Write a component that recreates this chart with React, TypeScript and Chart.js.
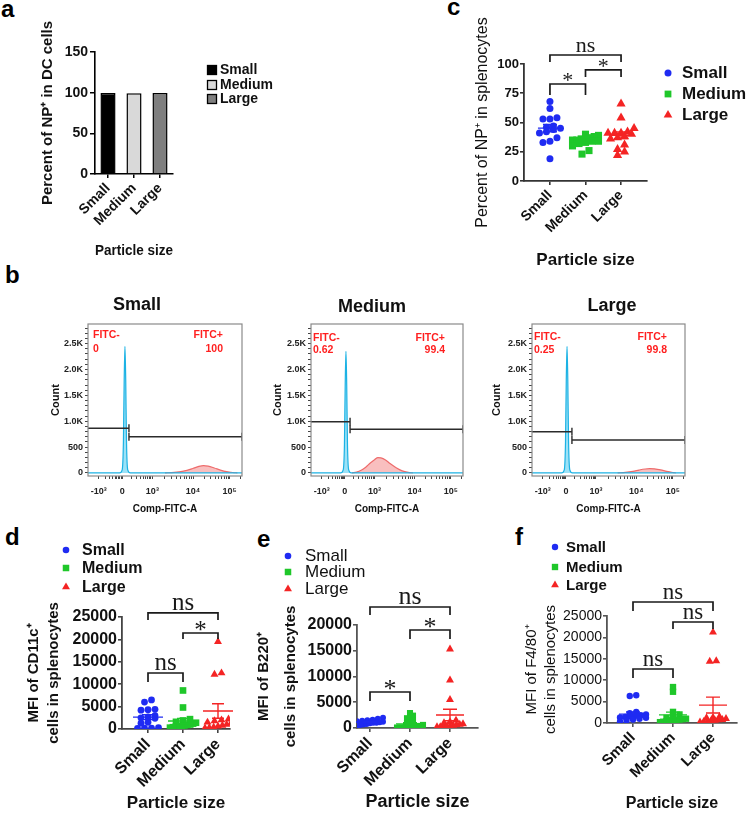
import React, { useEffect, useRef } from 'react';
import { Chart, registerables } from 'chart.js';

Chart.register(...registerables);

const SANS = '"Liberation Sans", Arial, Helvetica, sans-serif';
const SERIF = '"Liberation Serif", "Times New Roman", serif';
Chart.defaults.font.family = SANS;
Chart.defaults.color = '#111';

// ---------------- data ----------------
const categories = ['Small', 'Medium', 'Large'];

// (a) Percent of NP+ in DC cells
const npInDcPercent = [99.6, 99.3, 99.5];

// (b) flow histograms (channel position on display axis, event count)
const flowMajorTicks = [70, 222, 418, 682, 920];
const flowMajorLabels = ['-10³', '0', '10³', '10⁴', '10⁵'];
const fitcNegPercent = ['0', '0.62', '0.25'];
const fitcPosPercent = ['100', '99.4', '99.8'];
const smallNegChannel = [0, 205, 222, 230, 235, 240, 245, 250, 258, 275, 1000];
const smallNegCount = [0, 0, 60, 600, 1800, 2450, 1800, 600, 60, 0, 0];
const smallPosChannel = [500, 560, 620, 680, 720, 750, 780, 820, 860, 900, 940, 970];
const smallPosCount = [0, 10, 35, 85, 125, 140, 130, 95, 55, 25, 8, 0];
const mediumNegChannel = [0, 195, 212, 220, 225, 230, 235, 240, 248, 265, 1000];
const mediumNegCount = [0, 0, 60, 550, 1700, 2350, 1700, 550, 60, 0, 0];
const mediumPosChannel = [270, 300, 330, 360, 390, 420, 440, 460, 490, 520, 560, 600, 640, 670];
const mediumPosCount = [0, 15, 50, 110, 190, 260, 295, 290, 250, 180, 100, 40, 10, 0];
const largeNegChannel = [0, 194, 211, 219, 224, 229, 234, 239, 247, 264, 1000];
const largeNegCount = [0, 0, 60, 600, 1800, 2450, 1800, 600, 60, 0, 0];
const largePosChannel = [560, 610, 660, 700, 740, 770, 800, 840, 880, 920, 940];
const largePosCount = [0, 10, 30, 55, 75, 82, 78, 60, 30, 8, 0];
const negGateLevel = [863, 990, 797];
const posGateLevel = [700, 843, 636];
const gateSplit = [266, 257, 261];

// (c) Percent of NP+ in splenocytes
const npSplenoSmall = [68, 62, 54, 53, 53, 47, 46, 45, 44, 42, 41, 37, 34, 33, 19];
const npSplenoMedium = [40, 39, 38, 37, 36, 36, 35, 35, 34, 34, 33, 32, 30, 26, 23];
const npSplenoLarge = [66, 54, 45, 42, 41, 41, 41, 40, 38, 37, 36, 31, 25, 27, 22];
const npSplenoBrackets = [
  { from: 0, to: 2, y: 107.7, label: 'ns', drop: 7 },
  { from: 1, to: 2, y: 94.9, label: '*', drop: 7 },
  { from: 0, to: 1, y: 82.9, label: '*', drop: 11 },
];

// (d) MFI of CD11c+
const cd11cSmall = [6500, 6000, 4400, 4300, 4200, 3000, 2700, 2500, 2400, 1500, 1300, 300, 200, 200, 150];
const cd11cMedium = [8600, 4800, 2200, 1900, 1600, 1400, 1200, 1000, 900, 800, 700, 600, 500, 400, 300];
const cd11cLarge = [19500, 12500, 12200, 2200, 2000, 1800, 1500, 1300, 1000, 800, 600, 400, 300, 200];
const cd11cBrackets = [
  { from: 0, to: 2, y: 25900, label: 'ns', drop: 7 },
  { from: 1, to: 2, y: 21430, label: '*', drop: 6 },
  { from: 0, to: 1, y: 12500, label: 'ns', drop: 9 },
];

// (e) MFI of B220+
const b220Small = [2000, 1800, 1600, 1500, 1400, 1300, 1200, 1100, 1000, 1000, 900, 800, 700, 600, 500];
const b220Medium = [2900, 2400, 1900, 1400, 1000, 600, 400, 300, 300, 200, 200, 200, 100, 100, 100];
const b220Large = [15300, 9300, 5500, 1500, 1200, 1000, 800, 700, 600, 500, 400, 300, 300, 200, 200];
const b220Brackets = [
  { from: 0, to: 2, y: 23500, label: 'ns', drop: 8 },
  { from: 1, to: 2, y: 19030, label: '*', drop: 9 },
  { from: 0, to: 1, y: 6990, label: '*', drop: 9 },
];

// (f) MFI of F4/80+
const f480Small = [6500, 6300, 2600, 2300, 2000, 1800, 1700, 1500, 1400, 1300, 1200, 1000, 800, 500, 300];
const f480Medium = [8400, 7300, 2600, 2000, 1500, 1200, 1000, 900, 800, 700, 600, 500, 400, 300, 200];
const f480Large = [21200, 14500, 14400, 1500, 1300, 1200, 1000, 800, 700, 600, 500, 400, 300, 200];
const f480Brackets = [
  { from: 0, to: 2, y: 28270, label: 'ns', drop: 9 },
  { from: 1, to: 2, y: 23600, label: 'ns', drop: 7 },
  { from: 0, to: 1, y: 12620, label: 'ns', drop: 9 },
];

// ---------------- styles ----------------
const groupColors = ['#1f2bf2', '#1fc72a', '#f42424'];
const groupMarkers = ['circle', 'rect', 'triangle'];
const barFills = ['#000000', '#d9d9d9', '#7f7f7f'];

type Box = { left: number; top: number; width: number; height: number; area: { l: number; t: number; r: number; b: number } };

function frameLayout(box: Box) {
  const L = box.area.l - box.left;
  const R = box.area.r - box.left;
  const T = box.area.t - box.top;
  const B = box.area.b - box.top;
  return { padding: { left: 0, top: T, right: box.width - R, bottom: 0 }, yWidth: L, xHeight: box.height - B };
}

function axisGrid(color: string, tickLength: number, lineWidth: number) {
  return { display: true, drawOnChartArea: false, drawTicks: true, tickLength, color, lineWidth };
}

function drawMarker(ctx: any, style: string, x: number, y: number, r: number, color: string) {
  ctx.fillStyle = color;
  ctx.beginPath();
  if (style === 'circle') ctx.arc(x, y, r, 0, Math.PI * 2);
  else if (style === 'rect') {
    const s = r * Math.SQRT1_2;
    ctx.rect(x - s, y - s, 2 * s, 2 * s);
  } else {
    ctx.moveTo(x, y - r);
    ctx.lineTo(x + r * 0.866, y + r * 0.5);
    ctx.lineTo(x - r * 0.866, y + r * 0.5);
    ctx.closePath();
  }
  ctx.fill();
}

// ---------------- plugins (closures) ----------------
function keyPlugin(o: any) {
  return {
    id: 'keyList',
    afterDraw(chart: any) {
      const ctx = chart.ctx;
      ctx.save();
      ctx.font = o.font;
      ctx.textBaseline = 'middle';
      ctx.textAlign = 'left';
      if (o.mode === 'bars') {
        const ds = chart.data.datasets[0];
        chart.data.labels.forEach((lab: string, i: number) => {
          const y = o.rows[i];
          ctx.fillStyle = ds.backgroundColor[i];
          ctx.fillRect(o.mx - o.size / 2, y - o.size / 2, o.size, o.size);
          ctx.strokeStyle = '#000';
          ctx.lineWidth = 1.3;
          ctx.strokeRect(o.mx - o.size / 2, y - o.size / 2, o.size, o.size);
          ctx.fillStyle = '#111';
          ctx.fillText(lab, o.tx, y + 0.5);
        });
      } else {
        chart.data.datasets.forEach((ds: any, i: number) => {
          drawMarker(ctx, ds.pointStyle, o.mx, o.rows[i], o.r[i], ds.backgroundColor);
          ctx.fillStyle = '#111';
          ctx.fillText(ds.label, o.tx, o.rows[i] + 0.5);
        });
      }
      ctx.restore();
    },
  };
}

// rows of points (like a scatter dot plot): points with close y share a row, centred on the category
function swarmPlugin(spacing: number, binH: number, maxWidth: number) {
  return {
    id: 'swarm',
    afterDatasetsUpdate(chart: any) {
      chart.data.datasets.forEach((_ds: any, i: number) => {
        const els = chart.getDatasetMeta(i).data as any[];
        const order = els.map((_e, j) => j).sort((a, b) => els[b].y - els[a].y);
        const bins: { y0: number; idx: number[] }[] = [];
        let cur: { y0: number; idx: number[] } | null = null;
        order.forEach((j) => {
          const y = els[j].y;
          if (!cur || Math.abs(y - cur.y0) > binH) {
            cur = { y0: y, idx: [] };
            bins.push(cur);
          }
          cur.idx.push(j);
        });
        bins.forEach((b) => {
          const n = b.idx.length;
          const sp = n > 1 ? Math.min(spacing, maxWidth / (n - 1)) : 0;
          b.idx.forEach((j, k) => {
            els[j].x += (k - (n - 1) / 2) * sp;
          });
        });
      });
    },
  };
}

function meanSemPlugin(half: number, cap: number, width: number) {
  return {
    id: 'meanSem',
    afterDatasetsDraw(chart: any) {
      const { ctx } = chart;
      const xs = chart.scales.x;
      const ys = chart.scales.y;
      chart.data.datasets.forEach((ds: any) => {
        const vals = ds.data.map((p: any) => p.y);
        const n = vals.length;
        const mean = vals.reduce((a: number, b: number) => a + b, 0) / n;
        const sd = Math.sqrt(vals.reduce((a: number, v: number) => a + (v - mean) ** 2, 0) / (n - 1));
        const sem = sd / Math.sqrt(n);
        const cx = xs.getPixelForValue(ds.data[0].x);
        const ym = ys.getPixelForValue(mean);
        const yt = ys.getPixelForValue(mean + sem);
        const yb = ys.getPixelForValue(Math.max(mean - sem, 0));
        ctx.save();
        ctx.strokeStyle = ds.borderColor;
        ctx.lineWidth = width;
        ctx.beginPath();
        ctx.moveTo(cx - half, ym);
        ctx.lineTo(cx + half, ym);
        ctx.moveTo(cx, yt);
        ctx.lineTo(cx, yb);
        ctx.moveTo(cx - cap, yt);
        ctx.lineTo(cx + cap, yt);
        ctx.moveTo(cx - cap, yb);
        ctx.lineTo(cx + cap, yb);
        ctx.stroke();
        ctx.restore();
      });
    },
  };
}

function bracketPlugin(items: any[], size: number) {
  return {
    id: 'brackets',
    afterDraw(chart: any) {
      const { ctx } = chart;
      const xs = chart.scales.x;
      const ys = chart.scales.y;
      ctx.save();
      ctx.strokeStyle = '#1a1a1a';
      ctx.fillStyle = '#1a1a1a';
      ctx.lineWidth = 1.7;
      ctx.font = `${size}px ${SERIF}`;
      ctx.textAlign = 'center';
      ctx.textBaseline = 'alphabetic';
      items.forEach((b) => {
        const x1 = xs.getPixelForValue(b.from);
        const x2 = xs.getPixelForValue(b.to);
        const y = ys.getPixelForValue(b.y);
        ctx.beginPath();
        ctx.moveTo(x1, y + b.drop);
        ctx.lineTo(x1, y);
        ctx.lineTo(x2, y);
        ctx.lineTo(x2, y + b.drop);
        ctx.stroke();
        const ty = b.label === '*' ? y + 0.47 * size - 7 : y - 3;
        ctx.fillText(b.label, (x1 + x2) / 2, ty);
      });
      ctx.restore();
    },
  };
}

function notesPlugin(dx: number, dy: number, items: any[]) {
  return {
    id: 'notes',
    afterDraw(chart: any) {
      const ctx = chart.ctx;
      ctx.save();
      items.forEach((it) => {
        ctx.font = it.font;
        ctx.fillStyle = it.color;
        ctx.textAlign = it.align;
        ctx.textBaseline = 'middle';
        ctx.fillText(it.text, it.x - dx, it.y - dy);
      });
      ctx.restore();
    },
  };
}

const framePlugin = {
  id: 'frame',
  afterDraw(chart: any) {
    const { ctx, chartArea: a } = chart;
    ctx.save();
    ctx.strokeStyle = '#8a8a8a';
    ctx.lineWidth = 1.2;
    ctx.strokeRect(a.left, a.top, a.right - a.left, a.bottom - a.top);
    ctx.restore();
  },
};

// ---------------- panel (a): bar chart ----------------
const boxA: Box = { left: 39, top: 0, width: 237, height: 260, area: { l: 95, t: 52, r: 173, b: 174 } };

function barConfig() {
  const lay = frameLayout(boxA);
  return {
    type: 'bar',
    data: {
      labels: categories,
      datasets: [
        {
          label: 'Percent of NP⁺ in DC cells',
          data: npInDcPercent,
          backgroundColor: barFills,
          borderColor: '#000',
          borderWidth: 1.5,
          barPercentage: 0.58,
          categoryPercentage: 1,
        },
      ],
    },
    options: {
      responsive: false,
      animation: false,
      events: [],
      layout: { padding: lay.padding },
      plugins: { legend: { display: false }, tooltip: { enabled: false } },
      scales: {
        x: {
          grid: { ...axisGrid('#000', 4, 1.5), offset: false },
          border: { display: true, color: '#000', width: 1.6 },
          ticks: { font: { size: 14, weight: 'bold' }, color: '#111', minRotation: 45, maxRotation: 45, autoSkip: false, padding: 2 },
          title: { display: true, text: 'Particle size', font: { size: 15, weight: 'bold', lineHeight: '18px' }, color: '#111', padding: 0 },
          afterFit: (s: any) => {
            s.height = lay.xHeight;
          },
        },
        y: {
          min: 0,
          max: 150,
          ticks: { stepSize: 50, font: { size: 14, weight: 'bold' }, color: '#111', padding: 2, callback: (v: any) => String(v) },
          grid: axisGrid('#000', 5, 1.5),
          border: { display: true, color: '#000', width: 1.6 },
          title: { display: true, text: 'Percent of NP⁺ in DC cells', font: { size: 15, weight: 'bold', lineHeight: '18px' }, color: '#111', padding: 0 },
          afterFit: (s: any) => {
            s.width = lay.yWidth;
          },
        },
      },
    },
    plugins: [keyPlugin({ mode: 'bars', mx: 212 - boxA.left, tx: 220 - boxA.left, rows: [70, 85, 99], size: 9, font: `bold 14px ${SANS}` })],
  };
}

// ---------------- panel (b): flow histograms ----------------
const flowBoxes: Box[] = [
  { left: 49, top: 292, width: 200, height: 223, area: { l: 88, t: 324, r: 242, b: 476 } },
  { left: 271, top: 292, width: 199, height: 223, area: { l: 311, t: 324, r: 463, b: 476 } },
  { left: 490, top: 292, width: 205, height: 223, area: { l: 532, t: 324, r: 685, b: 476 } },
];
const flowNeg = [
  { x: smallNegChannel, y: smallNegCount },
  { x: mediumNegChannel, y: mediumNegCount },
  { x: largeNegChannel, y: largeNegCount },
];
const flowPos = [
  { x: smallPosChannel, y: smallPosCount },
  { x: mediumPosChannel, y: mediumPosCount },
  { x: largePosChannel, y: largePosCount },
];
const flowTitlePos = [
  { x: 137, y: 305 },
  { x: 372, y: 307 },
  { x: 612, y: 306 },
];
const fitcLabelPos = [
  { l: 93, r: 223, y1: 335, y2: 349 },
  { l: 313, r: 445, y1: 338, y2: 350 },
  { l: 534, r: 667, y1: 337, y2: 350 },
];

function flowMinorTicks() {
  const out: number[] = [];
  const decades = [
    [222, 418],
    [418, 682],
    [682, 920],
    [920, 1158],
  ];
  for (const [a, b] of decades) for (let k = 2; k <= 9; k++) out.push(a + Math.log10(k) * (b - a));
  for (let k = 2; k <= 9; k++) out.push(70 + Math.log10(k) * (222 - 70));
  return out.filter((v) => v > 0 && v < 1000);
}

function flowConfig(i: number) {
  const box = flowBoxes[i];
  const lay = frameLayout(box);
  const xy = (xs: number[], ys: number[]) => xs.map((x, j) => ({ x, y: ys[j] }));
  const split = gateSplit[i];
  const gateStyle = { borderColor: '#2b2b2b', borderWidth: 1.4, fill: false, pointStyle: 'line', pointRotation: 90, pointBorderColor: '#2b2b2b', pointBorderWidth: 1.4 };
  const minors = flowMinorTicks();
  const lp = fitcLabelPos[i];
  const red = '#ff1f1f';
  const fFont = `bold 10.5px ${SANS}`;
  return {
    type: 'line',
    data: {
      datasets: [
        { ...gateStyle, data: [{ x: 0, y: negGateLevel[i] }, { x: split, y: negGateLevel[i] }], pointRadius: [0, 4] },
        { ...gateStyle, data: [{ x: split, y: posGateLevel[i] }, { x: 1000, y: posGateLevel[i] }], pointRadius: [4, 4] },
        {
          data: xy(flowNeg[i].x, flowNeg[i].y),
          borderColor: '#1cb2e4',
          backgroundColor: 'rgba(95, 208, 242, 0.62)',
          borderWidth: 1.2,
          fill: 'origin',
          pointRadius: 0,
          cubicInterpolationMode: 'monotone',
        },
        {
          data: xy(flowPos[i].x, flowPos[i].y),
          borderColor: '#ee6b6b',
          backgroundColor: 'rgba(243, 128, 128, 0.5)',
          borderWidth: 1.2,
          fill: 'origin',
          pointRadius: 0,
          cubicInterpolationMode: 'monotone',
        },
      ],
    },
    options: {
      responsive: false,
      animation: false,
      events: [],
      layout: { padding: lay.padding },
      plugins: { legend: { display: false }, tooltip: { enabled: false } },
      scales: {
        x: {
          type: 'linear',
          min: 0,
          max: 1000,
          afterBuildTicks: (s: any) => {
            s.ticks = [...flowMajorTicks, ...minors].sort((a, b) => a - b).map((v) => ({ value: v }));
          },
          ticks: {
            autoSkip: false,
            maxRotation: 0,
            minRotation: 0,
            padding: 7,
            font: { size: 9, weight: 'bold' },
            color: '#222',
            callback: (v: any) => {
              const k = flowMajorTicks.indexOf(v);
              return k >= 0 ? flowMajorLabels[k] : '';
            },
          },
          grid: axisGrid('#444', 3, 1),
          border: { display: false },
          title: { display: true, text: 'Comp-FITC-A', font: { size: 10, weight: 'bold', lineHeight: '12px' }, color: '#111', padding: 0 },
          afterFit: (s: any) => {
            s.height = lay.xHeight;
          },
        },
        y: {
          min: -60,
          max: 2880,
          afterBuildTicks: (s: any) => {
            const t = [];
            for (let v = 0; v <= 2800; v += 100) t.push({ value: v });
            s.ticks = t;
          },
          ticks: {
            autoSkip: false,
            padding: 2,
            font: { size: 9, weight: 'bold' },
            color: '#222',
            callback: (v: any) => (v % 500 === 0 ? (v === 0 ? '0' : v < 1000 ? String(v) : (v / 1000).toFixed(1) + 'K') : ''),
          },
          grid: axisGrid('#444', 3, 1),
          border: { display: false },
          title: { display: true, text: 'Count', font: { size: 11, weight: 'bold', lineHeight: '13px' }, color: '#111', padding: 0 },
          afterFit: (s: any) => {
            s.width = lay.yWidth;
          },
        },
      },
    },
    plugins: [
      framePlugin,
      notesPlugin(box.left, box.top, [
        { text: categories[i], x: flowTitlePos[i].x, y: flowTitlePos[i].y, font: `bold 18px ${SANS}`, color: '#111', align: 'center' },
        { text: 'FITC-', x: lp.l, y: lp.y1, font: fFont, color: red, align: 'left' },
        { text: fitcNegPercent[i], x: lp.l, y: lp.y2, font: fFont, color: red, align: 'left' },
        { text: 'FITC+', x: lp.r, y: lp.y1, font: fFont, color: red, align: 'right' },
        { text: fitcPosPercent[i], x: lp.r, y: lp.y2, font: fFont, color: red, align: 'right' },
      ]),
    ],
  };
}

// ---------------- panels (c)-(f): dot plots ----------------
type DotSpec = {
  box: Box;
  xMin: number;
  xMax: number;
  yMax: number;
  yStep: number;
  series: number[][];
  yTitle: string | string[];
  yTitleFont: any;
  yTickFont: any;
  xTickFont: any;
  xTitleFont: any;
  legend: { mx: number; tx: number; rows: number[]; font: string; r: number[] };
  brackets: any[];
  bracketSize: number;
  radii: number[];
  swarm: { spacing: number; binH: number; maxWidth: number };
  meanHalf: number;
  capHalf: number;
  axisColor: string;
};

const dotPanels: DotSpec[] = [
  {
    box: { left: 473, top: 0, width: 276, height: 270, area: { l: 524, t: 64, r: 647, b: 181 } },
    xMin: -0.73,
    xMax: 2.73,
    yMax: 100,
    yStep: 25,
    series: [npSplenoSmall, npSplenoMedium, npSplenoLarge],
    yTitle: 'Percent of NP⁺ in splenocytes',
    yTitleFont: { size: 16, weight: 'normal', lineHeight: '19px' },
    yTickFont: { size: 13, weight: 'bold' },
    xTickFont: { size: 14, weight: 'bold' },
    xTitleFont: { size: 17, weight: 'bold', lineHeight: '20px' },
    legend: { mx: 668, tx: 682, rows: [73, 94, 115], font: `bold 17px ${SANS}`, r: [3.5, 4.8, 5] },
    brackets: npSplenoBrackets,
    bracketSize: 22,
    radii: [3.5, 5, 5.3],
    swarm: { spacing: 7, binH: 5, maxWidth: 26 },
    meanHalf: 12,
    capHalf: 7,
    axisColor: '#333',
  },
  {
    box: { left: 24, top: 528, width: 226, height: 285, area: { l: 122, t: 617, r: 230, b: 729 } },
    xMin: -0.743,
    xMax: 2.343,
    yMax: 25000,
    yStep: 5000,
    series: [cd11cSmall, cd11cMedium, cd11cLarge],
    yTitle: ['MFI of CD11c⁺', 'cells in splenocytes'],
    yTitleFont: { size: 15, weight: 'bold', lineHeight: '20px' },
    yTickFont: { size: 16, weight: 'bold' },
    xTickFont: { size: 16, weight: 'bold' },
    xTitleFont: { size: 17, weight: 'bold', lineHeight: '20px' },
    legend: { mx: 66, tx: 82, rows: [550, 568, 587], font: `bold 16px ${SANS}`, r: [3.3, 4.6, 4.6] },
    brackets: cd11cBrackets,
    bracketSize: 25,
    radii: [3.4, 4.7, 4.6],
    swarm: { spacing: 7, binH: 5, maxWidth: 26 },
    meanHalf: 15,
    capHalf: 6,
    axisColor: '#444',
  },
  {
    box: { left: 250, top: 528, width: 250, height: 285, area: { l: 357, t: 625, r: 478, b: 728 } },
    xMin: -0.325,
    xMax: 2.7,
    yMax: 20000,
    yStep: 5000,
    series: [b220Small, b220Medium, b220Large],
    yTitle: ['MFI of B220⁺', 'cells in splenocytes'],
    yTitleFont: { size: 15, weight: 'bold', lineHeight: '27px' },
    yTickFont: { size: 16, weight: 'bold' },
    xTickFont: { size: 16, weight: 'bold' },
    xTitleFont: { size: 18, weight: 'bold', lineHeight: '21px' },
    legend: { mx: 288, tx: 305, rows: [556, 572, 589], font: `17px ${SANS}`, r: [3.3, 4.6, 4.6] },
    brackets: b220Brackets,
    bracketSize: 26,
    radii: [3, 4.3, 4.6],
    swarm: { spacing: 6, binH: 4, maxWidth: 26 },
    meanHalf: 14,
    capHalf: 7,
    axisColor: '#555',
  },
  {
    box: { left: 522, top: 528, width: 227, height: 285, area: { l: 607, t: 616, r: 737, b: 723 } },
    xMin: -0.65,
    xMax: 2.6,
    yMax: 25000,
    yStep: 5000,
    series: [f480Small, f480Medium, f480Large],
    yTitle: ['MFI of F4/80⁺', 'cells in splenocytes'],
    yTitleFont: { size: 15, weight: 'normal', lineHeight: '19px' },
    yTickFont: { size: 14, weight: 'normal' },
    xTickFont: { size: 15, weight: 'bold' },
    xTitleFont: { size: 16, weight: 'bold', lineHeight: '19px' },
    legend: { mx: 555, tx: 566, rows: [547, 567, 585], font: `bold 15px ${SANS}`, r: [3.2, 4.5, 4.5] },
    brackets: f480Brackets,
    bracketSize: 23,
    radii: [3.2, 4.5, 4.6],
    swarm: { spacing: 6.5, binH: 4, maxWidth: 26 },
    meanHalf: 14,
    capHalf: 7,
    axisColor: '#555',
  },
];

function dotConfig(s: DotSpec) {
  const lay = frameLayout(s.box);
  return {
    type: 'scatter',
    data: {
      datasets: s.series.map((vals, i) => ({
        label: categories[i],
        data: vals.map((v) => ({ x: i, y: v })),
        pointStyle: groupMarkers[i],
        backgroundColor: groupColors[i],
        borderColor: groupColors[i],
        pointRadius: s.radii[i],
        pointBorderWidth: 0,
        borderWidth: 0,
      })),
    },
    options: {
      responsive: false,
      animation: false,
      events: [],
      layout: { padding: lay.padding },
      plugins: { legend: { display: false }, tooltip: { enabled: false } },
      scales: {
        x: {
          type: 'linear',
          min: s.xMin,
          max: s.xMax,
          afterBuildTicks: (sc: any) => {
            sc.ticks = categories.map((_c, i) => ({ value: i }));
          },
          ticks: {
            autoSkip: false,
            minRotation: 45,
            maxRotation: 45,
            padding: 2,
            font: s.xTickFont,
            color: '#111',
            callback: (v: any) => categories[v] ?? '',
          },
          grid: axisGrid(s.axisColor, 4, 1.6),
          border: { display: true, color: s.axisColor, width: 1.8 },
          title: { display: true, text: 'Particle size', font: s.xTitleFont, color: '#111', padding: 0 },
          afterFit: (sc: any) => {
            sc.height = lay.xHeight;
          },
        },
        y: {
          min: 0,
          max: s.yMax,
          ticks: { stepSize: s.yStep, font: s.yTickFont, color: '#111', padding: 1, callback: (v: any) => String(v) },
          grid: axisGrid(s.axisColor, 4, 1.6),
          border: { display: true, color: s.axisColor, width: 1.8 },
          title: { display: true, text: s.yTitle, font: s.yTitleFont, color: '#111', padding: 0 },
          afterFit: (sc: any) => {
            sc.width = lay.yWidth;
          },
        },
      },
    },
    plugins: [
      swarmPlugin(s.swarm.spacing, s.swarm.binH, s.swarm.maxWidth),
      meanSemPlugin(s.meanHalf, s.capHalf, 1.4),
      bracketPlugin(s.brackets, s.bracketSize),
      keyPlugin({
        mode: 'points',
        mx: s.legend.mx - s.box.left,
        tx: s.legend.tx - s.box.left,
        rows: s.legend.rows.map((r) => r - s.box.top),
        font: s.legend.font,
        r: s.legend.r,
      }),
    ],
  };
}

// ---------------- components ----------------
function ChartCanvas({ box, build }: { box: Box; build: () => any }) {
  const ref = useRef<HTMLCanvasElement | null>(null);
  useEffect(() => {
    if (!ref.current) return;
    const chart = new Chart(ref.current, build());
    return () => chart.destroy();
  }, []);
  return (
    <canvas
      ref={ref}
      width={box.width}
      height={box.height}
      style={{ position: 'absolute', left: box.left, top: box.top, width: box.width, height: box.height }}
    />
  );
}

const panelLetters = [
  { t: 'a', x: 1, y: -3 },
  { t: 'b', x: 5, y: 263 },
  { t: 'c', x: 447, y: -5 },
  { t: 'd', x: 5, y: 525 },
  { t: 'e', x: 257, y: 527 },
  { t: 'f', x: 515, y: 525 },
];

export default function App() {
  return (
    <div style={{ position: 'absolute', left: 0, top: 0, width: 749, height: 813, background: '#fff', overflow: 'hidden', fontFamily: SANS }}>
      {panelLetters.map((p) => (
        <div
          key={p.t}
          style={{ position: 'absolute', left: p.x, top: p.y, fontSize: 24, lineHeight: '24px', fontWeight: 'bold', color: '#000', fontFamily: SANS }}
        >
          {p.t}
        </div>
      ))}
      <ChartCanvas box={boxA} build={barConfig} />
      {flowBoxes.map((b, i) => (
        <ChartCanvas key={'flow' + i} box={b} build={() => flowConfig(i)} />
      ))}
      {dotPanels.map((s, i) => (
        <ChartCanvas key={'dot' + i} box={s.box} build={() => dotConfig(s)} />
      ))}
    </div>
  );
}
